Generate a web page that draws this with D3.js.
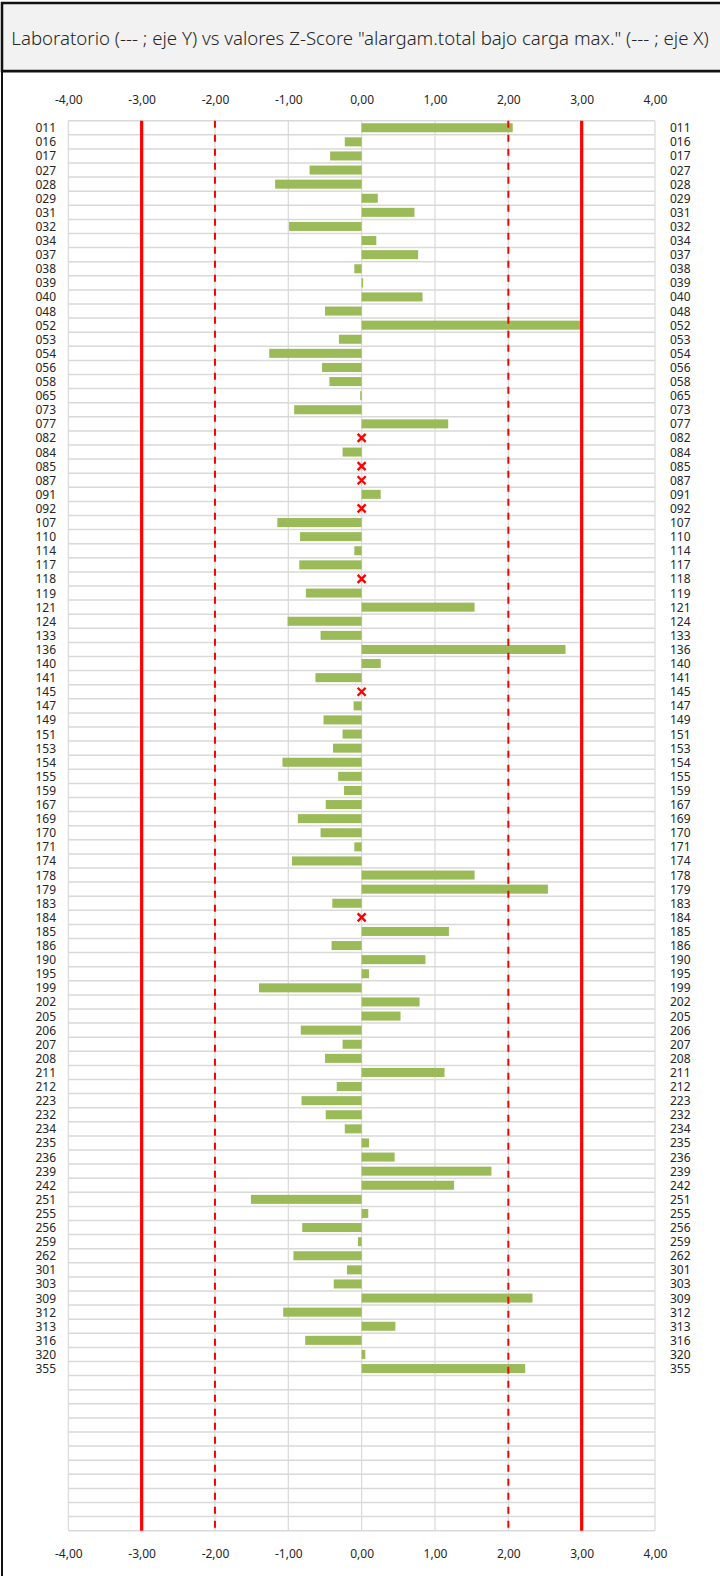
<!DOCTYPE html>
<html>
<head>
<meta charset="utf-8">
<script src="https://cdn.jsdelivr.net/npm/d3@7"></script>
<style>
  html, body { margin: 0; padding: 0; background: #fff; }
  svg { display: block; }
  text { font-family: "Noto Sans", "DejaVu Sans", sans-serif; fill: #262626; }
</style>
</head>
<body>
<svg id="chart" width="720" height="1576"></svg>
<script>
// Laboratory codes (Y axis, top to bottom)
const labs = ["011","016","017","027","028","029","031","032","034","037","038","039","040","048","052","053","054","056","058","065",
  "073","077","082","084","085","087","091","092","107","110","114","117","118","119","121","124","133","136","140","141",
  "145","147","149","151","153","154","155","159","167","169","170","171","174","178","179","183","184","185","186","190",
  "195","199","202","205","206","207","208","211","212","223","232","234","235","236","239","242","251","255","256","259",
  "262","301","303","309","312","313","316","320","355"];

// Z-Score per laboratory; null = no result (drawn as a red cross at 0)
const zscores = [2.06,-0.23,-0.43,-0.71,-1.18,0.22,0.72,-0.99,0.20,0.77,-0.10,0.02,0.83,-0.50,3.00,-0.31,-1.26,-0.54,-0.44,-0.02,
  -0.92,1.18,null,-0.26,null,null,0.26,null,-1.15,-0.84,-0.10,-0.85,null,-0.76,1.54,-1.01,-0.56,2.78,0.26,-0.63,
  null,-0.11,-0.52,-0.26,-0.39,-1.08,-0.32,-0.24,-0.49,-0.87,-0.56,-0.10,-0.95,1.54,2.54,-0.40,null,1.19,-0.41,0.87,
  0.10,-1.40,0.79,0.53,-0.83,-0.26,-0.50,1.13,-0.34,-0.82,-0.49,-0.23,0.10,0.45,1.77,1.26,-1.51,0.09,-0.81,-0.05,
  -0.93,-0.20,-0.38,2.33,-1.07,0.46,-0.77,0.05,2.23];

// Total number of row slots on the category axis (unused slots stay empty)
const slotCount = 100;

// X axis ticks and reference limits
const xTicks = [-4,-3,-2,-1,0,1,2,3,4];
const solidLimits = [-3, 3];
const dashedLimits = [-2, 2];

const titleText = 'Laboratorio (--- ; eje Y) vs valores Z-Score "alargam.total bajo carga max." (--- ; eje X)';

const svg = d3.select("#chart");

// Title box
svg.append("rect")
  .attr("x", 2).attr("y", 3).attr("width", 730).attr("height", 68)
  .attr("fill", "#f2f2f2").attr("stroke", "#111").attr("stroke-width", 2.5);

// Chart frame
svg.append("rect")
  .attr("x", 2).attr("y", 71.5).attr("width", 730).attr("height", 1520)
  .attr("fill", "#fff").attr("stroke", "#111").attr("stroke-width", 2);

const title = svg.append("text")
  .attr("x", 360).attr("y", 37)
  .attr("text-anchor", "middle").attr("dominant-baseline", "central")
  .style("font-size", "16px")
  .style("font-weight", 300)
  .text(titleText);
// fit the title to the box width
const tw = title.node().getComputedTextLength();
title.style("font-size", (16 * 698 / tw).toFixed(2) + "px");

const plot = { left: 68.3, right: 655, top: 120.7, bottom: 1530.7 };

const x = d3.scaleLinear().domain([-4, 4]).range([plot.left, plot.right]);
const y = d3.scaleBand().domain(d3.range(slotCount)).range([plot.top, plot.bottom]).paddingInner(0.36).paddingOuter(0.18);
const rowStep = y.step();

const g = svg.append("g");

// Horizontal row separators
g.selectAll("line.hgrid")
  .data(d3.range(slotCount + 1))
  .join("line")
  .attr("class", "hgrid")
  .attr("x1", plot.left).attr("x2", plot.right)
  .attr("y1", i => plot.top + i * rowStep).attr("y2", i => plot.top + i * rowStep)
  .attr("stroke", "#d9d9d9").attr("stroke-width", 1.5);

// Vertical gridlines
g.selectAll("line.vgrid")
  .data(xTicks)
  .join("line")
  .attr("class", "vgrid")
  .attr("x1", d => x(d)).attr("x2", d => x(d))
  .attr("y1", plot.top).attr("y2", plot.bottom)
  .attr("stroke", "#d9d9d9").attr("stroke-width", 1.2);

// Bars
const rows = labs.map((lab, i) => ({ lab, i, v: zscores[i] }));
g.selectAll("rect.bar")
  .data(rows.filter(d => d.v !== null))
  .join("rect")
  .attr("class", "bar")
  .attr("x", d => x(Math.min(0, d.v)))
  .attr("width", d => Math.max(0.8, Math.abs(x(d.v) - x(0))))
  .attr("y", d => y(d.i))
  .attr("height", y.bandwidth())
  .attr("fill", "#9bbb59");

// Limit lines
g.selectAll("line.solid")
  .data(solidLimits)
  .join("line")
  .attr("x1", d => x(d)).attr("x2", d => x(d))
  .attr("y1", plot.top).attr("y2", plot.bottom)
  .attr("stroke", "#ff0000").attr("stroke-width", 3.2);

g.selectAll("line.dashed")
  .data(dashedLimits)
  .join("line")
  .attr("x1", d => x(d)).attr("x2", d => x(d))
  .attr("y1", plot.top).attr("y2", plot.bottom)
  .attr("stroke", "#ff0000").attr("stroke-width", 2)
  .attr("stroke-dasharray", "7,7");

// Missing results: red crosses at zero
const cs = 4;
g.selectAll("path.cross")
  .data(rows.filter(d => d.v === null))
  .join("path")
  .attr("d", d => {
    const cx = x(0), cy = y(d.i) + y.bandwidth() / 2;
    return `M${cx - cs},${cy - cs}L${cx + cs},${cy + cs}M${cx - cs},${cy + cs}L${cx + cs},${cy - cs}`;
  })
  .attr("stroke", "#ff0000").attr("stroke-width", 2.4).attr("fill", "none");

// Category labels on both sides
const labelFont = "12px";
g.selectAll("text.lab-left")
  .data(rows)
  .join("text")
  .attr("x", 56).attr("y", d => y(d.i) + y.bandwidth() / 2)
  .attr("text-anchor", "end").attr("dominant-baseline", "central")
  .style("font-size", labelFont)
  .text(d => d.lab);

g.selectAll("text.lab-right")
  .data(rows)
  .join("text")
  .attr("x", 670).attr("y", d => y(d.i) + y.bandwidth() / 2)
  .attr("text-anchor", "start").attr("dominant-baseline", "central")
  .style("font-size", labelFont)
  .text(d => d.lab);

// X axes (top and bottom), tick labels only; comma decimals with a plain hyphen minus
const locale = d3.formatLocale({ decimal: ",", thousands: ".", grouping: [3], currency: ["", " €"], minus: "-" });
const fmt = locale.format(".2f");
const topAxis = d3.axisTop(x).tickValues(xTicks).tickFormat(fmt).tickSize(0).tickPadding(0);
const bottomAxis = d3.axisBottom(x).tickValues(xTicks).tickFormat(fmt).tickSize(0).tickPadding(0);

const ta = svg.append("g").attr("transform", `translate(0,${99})`).call(topAxis);
const ba = svg.append("g").attr("transform", `translate(0,${1553})`).call(bottomAxis);
[ta, ba].forEach(a => {
  a.select(".domain").remove();
  a.selectAll("text")
    .attr("y", 0).attr("dy", null)
    .attr("dominant-baseline", "central")
    .style("font-size", "12px")
    .style("font-family", '"Noto Sans", "DejaVu Sans", sans-serif')
    .attr("fill", "#262626");
});
</script>
</body>
</html>
